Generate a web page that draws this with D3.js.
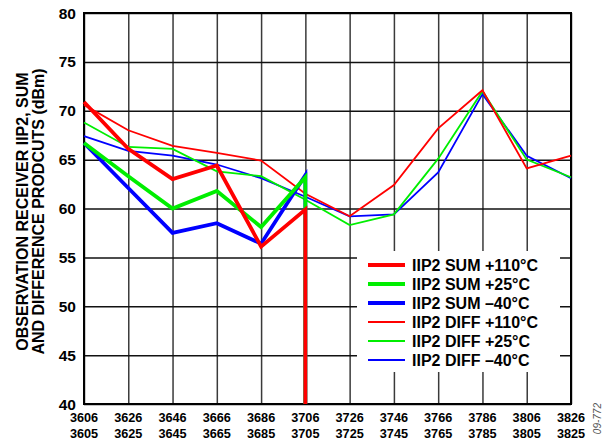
<!DOCTYPE html>
<html>
<head>
<meta charset="utf-8">
<script src="https://cdn.jsdelivr.net/npm/d3@7"></script>
<style>
  body { margin: 0; background: #fff; }
  svg { display: block; font-family: "Liberation Sans", Arial, sans-serif; }
</style>
</head>
<body>
<div id="chart-container"></div>
<script>
const width = 603;
const height = 446;
const margin = { top: 13, right: 32, bottom: 42, left: 84 };

// frequency pairs on the x axis (upper / lower line of each label)
const freqTop = ["3606", "3626", "3646", "3666", "3686", "3706", "3726", "3746", "3766", "3786", "3806", "3826"];
const freqBottom = ["3605", "3625", "3645", "3665", "3685", "3705", "3725", "3745", "3765", "3785", "3805", "3825"];
const yTicks = [40, 45, 50, 55, 60, 65, 70, 75, 80];

// SUM curves stop at 3706 and fall off the bottom of the chart
const sumIndex = [0, 1, 2, 3, 4, 5, 5];
const sum110 = [70.9, 66.1, 63.0, 64.4, 56.1, 59.9, 40];
const sum25 = [66.7, 63.3, 60.0, 61.8, 58.1, 63.2, 40];
const sumM40 = [66.7, 62.1, 57.5, 58.5, 56.4, 63.4, 40];

// DIFF curves cover all frequencies
const diff110 = [70.6, 68.0, 66.4, 65.7, 64.9, 61.5, 59.2, 62.4, 68.2, 72.1, 64.1, 65.4];
const diff25 = [68.8, 66.3, 66.1, 63.8, 63.3, 60.9, 58.3, 59.4, 65.1, 72.0, 65.0, 63.2];
const diffM40 = [67.4, 65.9, 65.4, 64.5, 63.1, 61.2, 59.2, 59.4, 63.7, 71.7, 65.4, 63.1];

const legendLabels = [
  "IIP2 SUM +110°C", "IIP2 SUM +25°C", "IIP2 SUM \u201340°C",
  "IIP2 DIFF +110°C", "IIP2 DIFF +25°C", "IIP2 DIFF \u201340°C"
];

const red = "#ff0000";
const green = "#00ee00";
const blue = "#0000ff";
const thick = 3.8;
const thin = 1.8;

const svg = d3.select("#chart-container")
  .append("svg")
  .attr("width", width)
  .attr("height", height);

const x = d3.scaleLinear()
  .domain([0, freqTop.length - 1])
  .range([margin.left, width - margin.right]);

const y = d3.scaleLinear()
  .domain([40, 80])
  .range([height - margin.bottom, margin.top]);

// grid
const plotW = width - margin.left - margin.right;
const plotH = height - margin.top - margin.bottom;

svg.append("g")
  .attr("transform", `translate(0,${height - margin.bottom})`)
  .call(d3.axisBottom(x).tickValues(d3.range(freqTop.length)).tickSize(-plotH).tickFormat(""))
  .call(g => g.select(".domain").remove())
  .call(g => g.selectAll("line").attr("stroke", "#3a3a3a").attr("stroke-width", 1.5));

svg.append("g")
  .attr("transform", `translate(${margin.left},0)`)
  .call(d3.axisLeft(y).tickValues(yTicks).tickSize(-plotW).tickFormat(""))
  .call(g => g.select(".domain").remove())
  .call(g => g.selectAll("line").attr("stroke", "#111").attr("stroke-width", 1.5));

// plot frame
svg.append("rect")
  .attr("x", margin.left)
  .attr("y", margin.top)
  .attr("width", plotW)
  .attr("height", plotH)
  .attr("fill", "none")
  .attr("stroke", "#000")
  .attr("stroke-width", 2);

// y tick labels
svg.append("g")
  .selectAll("text")
  .data(yTicks)
  .join("text")
  .attr("x", margin.left - 8)
  .attr("y", d => y(d))
  .attr("dy", "0.36em")
  .attr("text-anchor", "end")
  .style("font-size", "15.5px")
  .style("font-weight", "bold")
  .text(d => d);

// x tick labels, two lines
const xl = svg.append("g")
  .selectAll("text")
  .data(freqTop)
  .join("text")
  .attr("x", (d, i) => x(i))
  .attr("text-anchor", "middle")
  .style("font-size", "12.7px")
  .style("font-weight", "bold");
xl.append("tspan").attr("x", (d, i) => x(i)).attr("y", 422).text(d => d);
xl.append("tspan").attr("x", (d, i) => x(i)).attr("y", 437.5).text((d, i) => freqBottom[i]);

// y axis title
const yt = svg.append("text")
  .attr("transform", `translate(0,${(margin.top + height - margin.bottom) / 2 + 3}) rotate(-90)`)
  .attr("text-anchor", "middle")
  .style("font-size", "16px")
  .style("font-weight", "bold");
yt.append("tspan").attr("x", 0).attr("y", 27.5).text("OBSERVATION RECEIVER IIP2, SUM");
yt.append("tspan").attr("x", 0).attr("y", 43.5).text("AND DIFFERENCE PRODCUTS (dBm)");

// lines
const line = d3.line().x(d => x(d[0])).y(d => y(d[1]));

const series = [
  { values: diffM40, idx: null, color: blue, w: thin },
  { values: diff25, idx: null, color: green, w: thin },
  { values: diff110, idx: null, color: red, w: thin },
  { values: sumM40, idx: sumIndex, color: blue, w: thick },
  { values: sum25, idx: sumIndex, color: green, w: thick },
  { values: sum110, idx: sumIndex, color: red, w: thick }
];

svg.append("g")
  .selectAll("path")
  .data(series)
  .join("path")
  .attr("fill", "none")
  .attr("stroke", d => d.color)
  .attr("stroke-width", d => d.w)
  .attr("stroke-linejoin", "miter")
  .attr("d", d => line(d.values.map((v, i) => [d.idx ? d.idx[i] : i, v])));

// legend
const legend = svg.append("g");
legend.append("rect")
  .attr("x", 357)
  .attr("y", 251)
  .attr("width", 203)
  .attr("height", 121)
  .attr("fill", "#fff");

const legendColors = [red, green, blue, red, green, blue];
const legendWidths = [thick, thick, thick, thin, thin, thin];

legendLabels.forEach((label, i) => {
  const ly = 265 + i * 19;
  legend.append("line")
    .attr("x1", 368).attr("x2", 405)
    .attr("y1", ly).attr("y2", ly)
    .attr("stroke", legendColors[i])
    .attr("stroke-width", legendWidths[i]);
  legend.append("text")
    .attr("x", 412)
    .attr("y", ly)
    .attr("dy", "0.36em")
    .style("font-size", "16px")
    .style("font-weight", "bold")
    .text(label);
});

// figure number
svg.append("text")
  .attr("transform", "translate(601,403) rotate(-90)")
  .attr("text-anchor", "end")
  .style("font-size", "10px")
  .style("font-style", "italic")
  .attr("fill", "#555")
  .text("09-772");
</script>
</body>
</html>
